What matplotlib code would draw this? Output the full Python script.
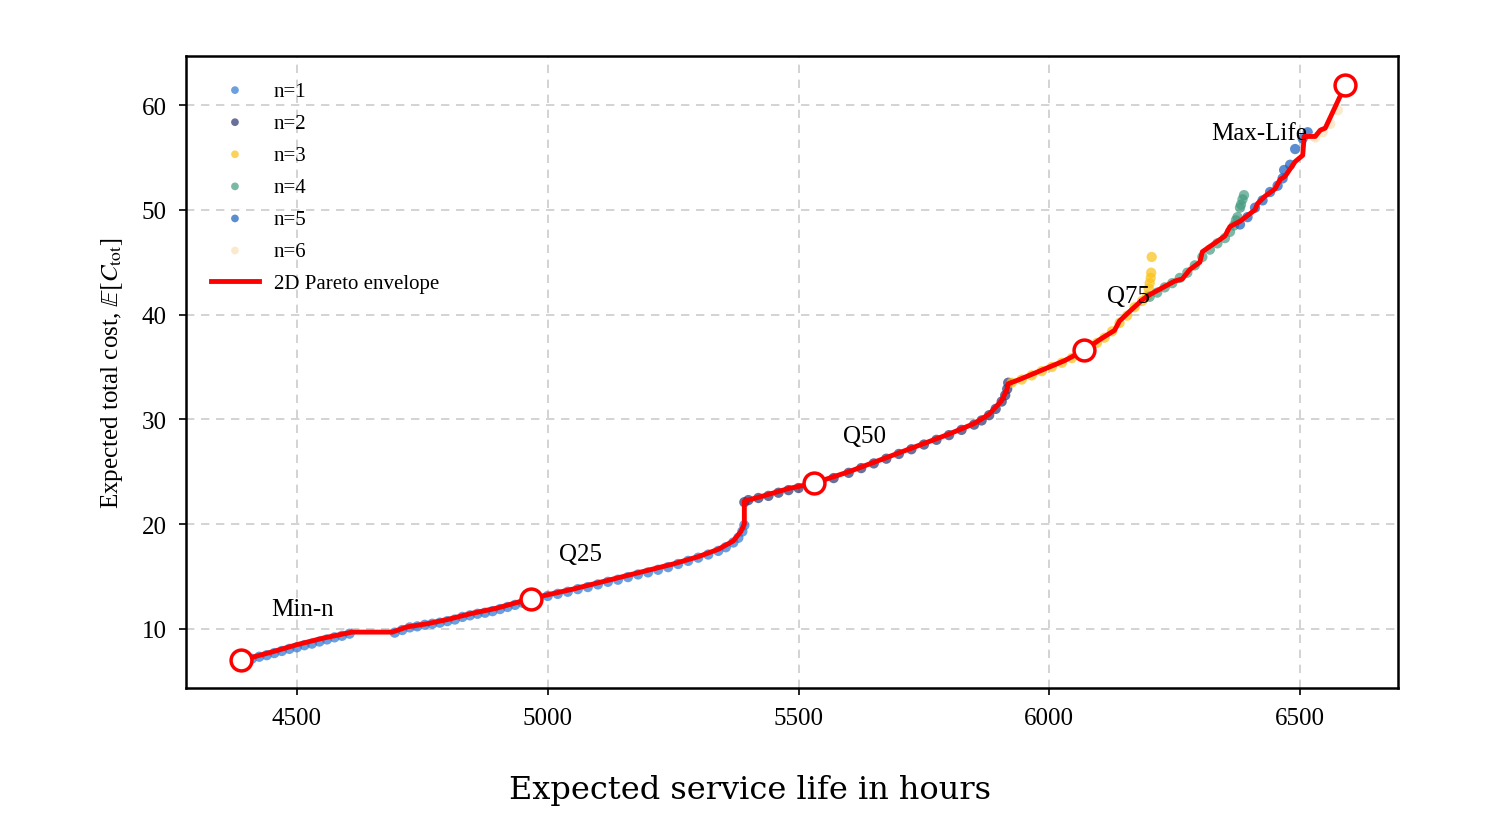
import matplotlib
matplotlib.use("Agg")
import matplotlib.pyplot as plt

# ---------------- data ----------------
env_x = [4388, 4450, 4500, 4550, 4610, 4690, 4720, 4760, 4800, 4850, 4900, 4966,
         5050, 5100, 5150, 5200, 5250, 5300, 5340, 5370, 5385, 5392, 5392, 5430,
         5480, 5530, 5600, 5650, 5700, 5750, 5800, 5850, 5880, 5905, 5915, 5918,
         5940, 5980, 6030, 6070, 6100, 6130, 6140, 6160, 6185, 6200, 6250, 6265,
         6280, 6300, 6305, 6320, 6350, 6360, 6380, 6410, 6415, 6430, 6450, 6460,
         6470, 6490, 6505, 6508, 6530, 6540, 6550, 6590]
env_y = [7.0, 7.8, 8.5, 9.1, 9.7, 9.7, 10.2, 10.5, 10.9, 11.5, 12.0, 12.9,
         13.8, 14.4, 15.0, 15.6, 16.2, 16.9, 17.6, 18.4, 19.3, 20.0, 22.2, 22.7,
         23.4, 23.9, 25.0, 25.9, 26.8, 27.7, 28.6, 29.6, 30.5, 31.8, 32.8, 33.4,
         33.8, 34.6, 35.6, 36.6, 37.6, 38.5, 39.4, 40.3, 41.4, 41.9, 43.2, 43.4,
         44.3, 45.0, 46.0, 46.5, 47.5, 48.4, 48.9, 50.0, 50.6, 51.3, 52.0, 52.9,
         53.2, 54.6, 55.2, 57.0, 57.0, 57.6, 57.8, 61.9]

n1_x = [4395, 4410, 4425, 4440, 4455, 4470, 4485, 4500, 4515, 4530, 4545, 4560,
        4575, 4590, 4605, 4695, 4710, 4725, 4740, 4755, 4770, 4785, 4800, 4815,
        4830, 4845, 4860, 4875, 4890, 4905, 4920, 4935, 4950, 4980, 5000, 5020,
        5040, 5060, 5080, 5100, 5120, 5140, 5160, 5180, 5200, 5220, 5240, 5260,
        5280, 5300, 5320, 5340, 5355, 5370, 5380, 5388, 5392]
n1_y = [7.0, 7.15, 7.35, 7.5, 7.7, 7.9, 8.1, 8.25, 8.45, 8.6, 8.8, 9.0,
        9.2, 9.35, 9.55, 9.65, 9.9, 10.15, 10.25, 10.4, 10.5, 10.6, 10.75, 10.9,
        11.15, 11.3, 11.45, 11.55, 11.7, 11.9, 12.1, 12.3, 12.5, 12.9, 13.15, 13.35,
        13.55, 13.8, 14.0, 14.25, 14.5, 14.7, 14.95, 15.2, 15.4, 15.65, 15.9, 16.2,
        16.5, 16.8, 17.1, 17.45, 17.8, 18.25, 18.7, 19.3, 19.9]

n2_x = [5392, 5400, 5420, 5440, 5460, 5480, 5500, 5520, 5545, 5570, 5600, 5625,
        5650, 5675, 5700, 5725, 5750, 5775, 5800, 5825, 5850, 5865, 5880, 5893,
        5905, 5912, 5916, 5918]
n2_y = [22.1, 22.3, 22.5, 22.7, 23.0, 23.25, 23.45, 23.7, 24.05, 24.4, 24.9, 25.35,
        25.8, 26.25, 26.7, 27.15, 27.6, 28.05, 28.5, 29.0, 29.5, 29.9, 30.4, 31.0,
        31.7, 32.3, 32.9, 33.5]

n3_x = [5925, 5945, 5965, 5985, 6005, 6025, 6045, 6060, 6080, 6095, 6110, 6125,
        6140, 6155, 6170, 6185, 6195, 6198, 6200, 6202, 6203, 6204]
n3_y = [33.5, 33.8, 34.2, 34.6, 35.0, 35.4, 35.85, 36.2, 36.8, 37.3, 37.8, 38.4,
        39.2, 39.9, 40.7, 41.3, 41.8, 42.5, 43.0, 43.5, 44.0, 45.5]

n4_x = [6200, 6215, 6230, 6245, 6260, 6275, 6290, 6305, 6320, 6335, 6350, 6360,
        6368, 6372, 6375, 6380, 6382, 6385, 6388]
n4_y = [41.7, 42.1, 42.6, 43.0, 43.5, 44.0, 44.7, 45.5, 46.2, 46.8, 47.3, 47.9,
        48.5, 49.0, 49.3, 50.2, 50.5, 51.0, 51.4]

n5_x = [6380, 6395, 6410, 6425, 6440, 6455, 6465, 6468, 6480, 6490, 6505, 6515]
n5_y = [48.6, 49.3, 50.2, 50.9, 51.7, 52.3, 53.0, 53.8, 54.3, 55.8, 56.8, 57.4]

n6_x = [6530, 6545, 6560, 6575]
n6_y = [56.9, 57.4, 58.2, 59.5]

key_x = [4388, 4966, 5530, 6070, 6590]
key_y = [7.0, 12.9, 23.9, 36.6, 61.9]
key_labels = ["Min-n", "Q25", "Q50", "Q75", "Max-Life"]
label_x = [4512, 5066, 5631, 6157, 6419]
label_y = [11.9, 17.2, 28.4, 41.8, 57.3]

group_labels = ["n=1", "n=2", "n=3", "n=4", "n=5", "n=6"]
group_colors = ["#2b77d3", "#2a3570", "#fbc114", "#439a7f", "#155ebe", "#fae0b7"]

x_ticks = [4500, 5000, 5500, 6000, 6500]
y_ticks = [10, 20, 30, 40, 50, 60]

# ---------------- plot ----------------
plt.rcParams["font.family"] = ["Liberation Serif", "DejaVu Serif"]
plt.rcParams["mathtext.fontset"] = "stix"

fig = plt.figure(figsize=(15, 8.2), dpi=100)
ax = fig.add_axes([0.124, 0.1598, 0.808, 0.7707])

groups = [(n1_x, n1_y), (n2_x, n2_y), (n3_x, n3_y), (n4_x, n4_y), (n5_x, n5_y), (n6_x, n6_y)]
for (gx, gy), lab, col in zip(groups, group_labels, group_colors):
    ax.scatter(gx, gy, s=55, color=col, alpha=0.7, edgecolors="none", label=lab, zorder=3)

ax.plot(env_x, env_y, color="#ff0000", lw=3.5, label="2D Pareto envelope", zorder=4)
ax.plot(key_x, key_y, linestyle="none", marker="o", markersize=15,
        markerfacecolor="white", markeredgecolor="#ff0000", markeredgewidth=2.5, zorder=5)

for lx, ly, t in zip(label_x, label_y, key_labels):
    ax.text(lx, ly, t, fontsize=18, ha="center", va="center", zorder=6)

ax.set_xlim(4279, 6695)
ax.set_ylim(4.37, 64.68)
ax.set_xticks(x_ticks)
ax.set_yticks(y_ticks)
ax.tick_params(axis="both", labelsize=18, length=5, width=1.2, direction="out", pad=9)
ax.grid(True, linestyle=(0, (5, 4)), color="#cccccc", linewidth=1.2)
ax.set_axisbelow(True)
for sp in ax.spines.values():
    sp.set_linewidth(1.8)

ax.set_ylabel(r"Expected total cost, $\mathbb{E}[C_{\mathrm{tot}}]$", fontsize=18, labelpad=12)
fig.text(0.5, 1 - 791 / 820, "Expected service life in hours", fontsize=23,
         family="DejaVu Serif", ha="center", va="center")

leg = ax.legend(loc="upper left", frameon=False, fontsize=15, handlelength=2.3,
                handletextpad=0.7, labelspacing=0.6, markerscale=0.75,
                bbox_to_anchor=(0.0, 1.0), borderaxespad=0.8)

fig.savefig("out.png", dpi=100)
